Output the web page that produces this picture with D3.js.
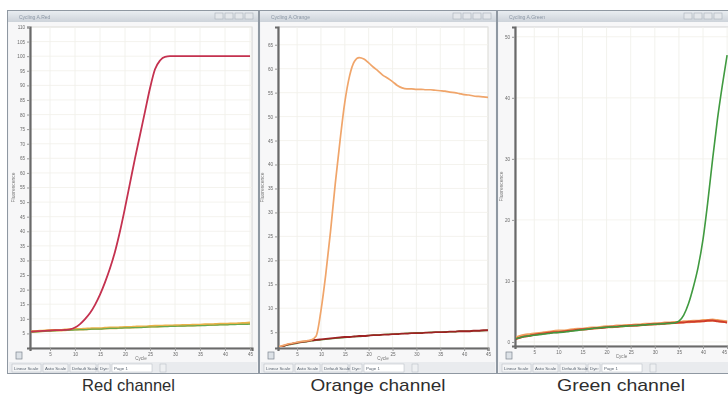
<!DOCTYPE html>
<html><head><meta charset="utf-8">
<script src="https://cdn.jsdelivr.net/npm/d3@7"></script>
<style>body{margin:0;background:#fff;}svg{display:block}</style>
</head><body>
<svg id="c" width="728" height="396"></svg>
<script>
// ---------- data ----------
const cycles = [1,2,3,4,5,6,7,8,9,10,11,12,13,14,15,16,17,18,19,20,21,22,23,24,25,26,27,28,29,30,31,32,33,34,35,36,37,38,39,40,41,42,43,44,45];

const redTarget = [5.6,5.7,5.8,5.9,6.0, 6.1,6.1,6.2,6.4,7.0, 8.2,9.9,12.0,14.8,18.3, 22.5,27.3,33,40,48, 56.5,65,73,81,89, 95.5,98.5,99.8,100,100, 100,100,100,100,100, 100,100,100,100,100, 100,100,100,100,100];
const redBaseA  = [5.6,5.7,5.8,5.9,6.0, 6.1,6.1,6.2,6.3,6.4, 6.4,6.5,6.6,6.7,6.7, 6.8,6.9,6.9,7.0,7.1, 7.1,7.2,7.3,7.3,7.4, 7.5,7.5,7.6,7.6,7.7, 7.7,7.8,7.8,7.9,7.9, 8.0,8.0,8.1,8.2,8.2, 8.3,8.3,8.4,8.5,8.6];
const redBaseB  = [5.4,5.5,5.6,5.7,5.8, 5.9,6.0,6.0,6.1,6.2, 6.3,6.3,6.4,6.5,6.5, 6.6,6.7,6.7,6.8,6.9, 6.9,7.0,7.0,7.1,7.2, 7.2,7.3,7.3,7.4,7.4, 7.5,7.5,7.6,7.6,7.7, 7.7,7.8,7.8,7.9,7.9, 8.0,8.0,8.1,8.1,8.2];

const orangeTarget = [1.9,2.2,2.5,2.7,2.9, 3.1,3.2,3.4,4.2,9.5, 17,26,36,45,53, 58.5,61.5,62.3,62,61.2, 60.3,59.5,58.6,58,57.3, 56.5,56,55.8,55.8,55.7, 55.7,55.6,55.6,55.5,55.4, 55.3,55.1,55,54.8,54.6, 54.5,54.3,54.2,54.1,54];
const orangeBaseA  = [1.8,2.1,2.4,2.6,2.8, 3.0,3.1,3.3,3.4,3.5, 3.6,3.7,3.8,3.9,4.0, 4.0,4.1,4.2,4.2,4.3, 4.4,4.4,4.5,4.5,4.6, 4.6,4.7,4.7,4.8,4.8, 4.8,4.9,4.9,5.0,5.0, 5.0,5.1,5.1,5.2,5.2, 5.2,5.3,5.3,5.4,5.4];
const orangeBaseB  = [1.7,2.0,2.3,2.5,2.7, 2.9,3.0,3.2,3.3,3.4, 3.5,3.6,3.7,3.8,3.9, 4.0,4.1,4.1,4.2,4.3, 4.4,4.4,4.5,4.6,4.6, 4.7,4.7,4.8,4.8,4.9, 4.9,4.9,5.0,5.0,5.0, 5.1,5.1,5.1,5.2,5.2, 5.2,5.3,5.3,5.3,5.4];

const greenTarget = [0.5,0.7,0.9,1.0,1.1, 1.2,1.3,1.4,1.5,1.55, 1.6,1.7,1.8,1.9,2.0, 2.1,2.2,2.3,2.35,2.4, 2.45,2.5,2.55,2.6,2.65, 2.7,2.75,2.8,2.85,2.9, 2.95,3.0,3.05,3.1,3.4, 4.4,6.3,9.0,12.3,16.8, 23,30,36.5,42,47];
const greenBaseA  = [0.4,0.7,0.9,1.0,1.2, 1.3,1.4,1.5,1.6,1.6, 1.7,1.8,1.9,2.0,2.1, 2.1,2.2,2.3,2.3,2.4, 2.5,2.5,2.6,2.6,2.7, 2.7,2.8,2.8,2.9,2.9, 3.0,3.0,3.1,3.1,3.2, 3.2,3.3,3.3,3.4,3.4, 3.5,3.5,3.4,3.3,3.2];
const greenBaseB  = [0.6,0.9,1.1,1.2,1.3, 1.4,1.5,1.6,1.7,1.8, 1.8,1.9,2.0,2.1,2.1, 2.2,2.3,2.3,2.4,2.5, 2.5,2.6,2.6,2.7,2.7, 2.8,2.8,2.9,2.9,3.0, 3.0,3.1,3.1,3.2,3.2, 3.3,3.3,3.4,3.4,3.5, 3.5,3.6,3.5,3.4,3.3];

const xTicks = [5,10,15,20,25,30,35,40,45];
const redYTicks = [5,10,15,20,25,30,35,40,45,50,55,60,65,70,75,80,85,90,95,100,105,110];
const orangeYTicks = [5,10,15,20,25,30,35,40,45,50,55,60,65];
const greenYTicks = [0,10,20,30,40,50];
const captions = ["Red channel","Orange channel","Green channel"];
const windowTitles = ["Cycling A.Red","Cycling A.Orange","Cycling A.Green"];
const yTitle = "Fluorescence";
const xTitle = "Cycle";
const buttonLabels = ["Linear Scale","Auto Scale","Default Scale","Dye:","Page 1"];

// ---------- layout ----------
const panels = [
  {wx0:7, wx1:259, plotL:30, plotR:252, top:27, bottom:348, xDom:[1,45.4], yDom:[0,110], yTicks:redYTicks,
   series:[{v:redBaseA,c:"#e9b24a",w:2.6},{v:redBaseB,c:"#6aa84f",w:1.2},{v:redTarget,c:"#c4304f",w:1.8}],
   cap:{x:128.5, len:93}, ytx:15},
  {wx0:259, wx1:497, plotL:278, plotR:488, top:27, bottom:348, xDom:[1,45], yDom:[1.7,68.7], yTicks:orangeYTicks,
   series:[{v:orangeBaseB,c:"#5e9e45",w:1.4},{v:orangeBaseA,c:"#9e2222",w:1.8},{v:orangeTarget,c:"#f0a56a",w:1.7}],
   cap:{x:378, len:135}, ytx:264},
  {wx0:497, wx1:740, plotL:515, plotR:730, top:27, bottom:346, xDom:[1,45.6], yDom:[-0.66,51.6], yTicks:greenYTicks,
   series:[{v:greenBaseB,c:"#f0a060",w:3},{v:greenBaseA,c:"#cf3b2c",w:2},{v:greenTarget,c:"#3f9a3f",w:1.6}],
   cap:{x:621, len:128}, ytx:503}
];

const svg = d3.select("#c");
const defs = svg.append("defs");
defs.append("filter").attr("id","soft").append("feGaussianBlur").attr("stdDeviation",0.35);
const tg = defs.append("linearGradient").attr("id","tbar").attr("x1",0).attr("x2",0).attr("y1",0).attr("y2",1);
tg.append("stop").attr("offset","0%").attr("stop-color","#e9edf1");
tg.append("stop").attr("offset","100%").attr("stop-color","#cdd3da");

const font = "'Liberation Sans', Arial, sans-serif";

panels.forEach((p, i) => {
  const g = svg.append("g").attr("filter","url(#soft)");
  const wy0 = 10, wy1 = 374;
  g.append("rect").attr("x",p.wx0+0.5).attr("y",wy0+0.5).attr("width",p.wx1-p.wx0-1).attr("height",wy1-wy0-1)
    .attr("fill","#f2f3f5").attr("stroke","#8f98a2");
  g.append("rect").attr("x",p.wx0+1).attr("y",wy0+1).attr("width",p.wx1-p.wx0-2).attr("height",11).attr("fill","url(#tbar)");
  g.append("text").attr("x",p.wx0+12).attr("y",wy0+8.5).attr("font-size",5).attr("fill","#8a96a4")
    .attr("font-family",font).text(windowTitles[i]);
  const cx = Math.min(p.wx1, 728) - 44;
  [0,1,2,3].forEach(k => g.append("rect").attr("x",cx+k*10).attr("y",wy0+3).attr("width",8).attr("height",6)
    .attr("fill","#e4e7eb").attr("stroke","#a9b1ba").attr("stroke-width",0.6));
  g.append("rect").attr("x",p.wx0+2).attr("y",wy0+12).attr("width",p.wx1-p.wx0-4).attr("height",wy1-wy0-14).attr("fill","#f7f7f8");

  const x = d3.scaleLinear().domain(p.xDom).range([p.plotL, p.plotR]);
  const y = d3.scaleLinear().domain(p.yDom).range([p.bottom, p.top]);

  g.append("rect").attr("x",p.plotL).attr("y",p.top).attr("width",p.plotR-p.plotL).attr("height",p.bottom-p.top)
    .attr("fill","#fff").attr("stroke","#c9c9c9").attr("stroke-width",0.8);
  g.append("g").selectAll("line").data(xTicks).join("line")
    .attr("x1",d=>x(d)).attr("x2",d=>x(d)).attr("y1",p.top).attr("y2",p.bottom)
    .attr("stroke","#efefe8").attr("stroke-width",0.8);
  g.append("g").selectAll("line").data(p.yTicks).join("line")
    .attr("x1",p.plotL).attr("x2",p.plotR).attr("y1",d=>y(d)).attr("y2",d=>y(d))
    .attr("stroke","#f1f0ea").attr("stroke-width",0.8);

  const ya = d3.axisLeft(y).tickValues(p.yTicks).tickSize(3).tickPadding(2);
  const yg = g.append("g").attr("transform",`translate(${p.plotL},0)`).call(ya);
  const xa = d3.axisBottom(x).tickValues(xTicks).tickSize(3).tickPadding(2);
  const xg = g.append("g").attr("transform",`translate(0,${p.bottom})`).call(xa);
  [yg,xg].forEach(a => {
    a.select(".domain").attr("stroke","#6b6b6b").attr("stroke-width",2.2);
    a.selectAll(".tick line").attr("stroke","#999");
    a.selectAll(".tick text").attr("font-size",4.6).attr("fill","#6a6a6a").attr("font-family",font);
  });
  // keep the last x label inside the picture
  xg.selectAll(".tick text").filter(d => x(d) > 722).attr("text-anchor","end").attr("dx","-0.5");

  g.append("text").attr("transform",`translate(${p.ytx},${(p.top+p.bottom)/2}) rotate(-90)`)
    .attr("text-anchor","middle").attr("font-size",5).attr("fill","#777").attr("font-family",font).text(yTitle);
  g.append("text").attr("x",(p.plotL+Math.min(p.plotR,728))/2).attr("y",p.bottom+12).attr("text-anchor","middle")
    .attr("font-size",4.6).attr("fill","#777").attr("font-family",font).text(xTitle);

  const clipId = "clip"+i;
  defs.append("clipPath").attr("id",clipId).append("rect")
    .attr("x",p.plotL+1).attr("y",p.top).attr("width",p.plotR-p.plotL-1).attr("height",p.bottom-p.top-1);
  const line = d3.line().x((d,k)=>x(cycles[k])).y(d=>y(d)).curve(d3.curveMonotoneX);
  const sg = g.append("g").attr("clip-path",`url(#${clipId})`);
  p.series.forEach(s => sg.append("path").attr("d",line(s.v)).attr("fill","none")
    .attr("stroke",s.c).attr("stroke-width",s.w).attr("stroke-linejoin","round"));

  g.append("rect").attr("x",p.wx0+9).attr("y",352).attr("width",6).attr("height",7)
    .attr("fill","#dde2e7").attr("stroke","#7c8590").attr("stroke-width",0.7);

  g.append("rect").attr("x",p.wx0+2).attr("y",362).attr("width",p.wx1-p.wx0-4).attr("height",11).attr("fill","#e9ebee");
  const bw = [29,25,26,12,40];
  let bx = p.wx0+5;
  buttonLabels.forEach((b,k) => {
    const w = bw[k];
    g.append("rect").attr("x",bx).attr("y",364).attr("width",w).attr("height",8)
      .attr("fill", k===4 ? "#ffffff" : "#f4f5f6").attr("stroke","#b2b8c0").attr("stroke-width",0.5);
    g.append("text").attr("x",bx+2).attr("y",369.8).attr("font-size",4.4).attr("fill","#5a6470")
      .attr("font-family",font).text(b);
    bx += w + 2;
  });
  g.append("rect").attr("x",bx+6).attr("y",364).attr("width",6).attr("height",8)
    .attr("fill","#eef0f2").attr("stroke","#b2b8c0").attr("stroke-width",0.5);

  svg.append("text").attr("x",p.cap.x).attr("y",391).attr("text-anchor","middle")
    .attr("font-size",17).attr("fill","#2e2e2e").attr("font-family","'Liberation Sans', Arial, Helvetica, sans-serif")
    .attr("textLength",p.cap.len).attr("lengthAdjust","spacingAndGlyphs").text(captions[i]);
});
</script>
</body></html>
